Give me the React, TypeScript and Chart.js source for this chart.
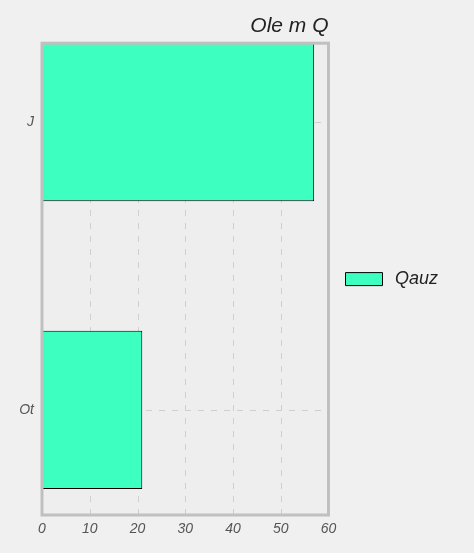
import React, { useEffect, useRef } from "react";
import { Chart, registerables } from "chart.js";

Chart.register(...registerables);

const categories: string[] = ["J", "Ot"];
const seriesName = "Qauz";
const values: number[] = [57, 21];
const xTicks: number[] = [0, 10, 20, 30, 40, 50, 60];
const titleText = "Ole m Q";

const FONT = "'Liberation Sans', Arial, Helvetica, sans-serif";

const framePlugin = {
  id: "frame",
  beforeDraw(chart: any) {
    const { ctx, chartArea, width, height } = chart;
    ctx.save();
    ctx.fillStyle = "#f0f0f0";
    ctx.fillRect(0, 0, width, height);
    ctx.fillStyle = "#eeeeee";
    ctx.fillRect(chartArea.left, chartArea.top, chartArea.right - chartArea.left, chartArea.bottom - chartArea.top);
    ctx.restore();
  },
  beforeDatasetsDraw(chart: any) {
    const { ctx, chartArea } = chart;
    const xs = chart.scales.x;
    const ys = chart.scales.y;
    ctx.save();
    ctx.strokeStyle = "#cfcfcf";
    ctx.lineWidth = 1;
    ctx.setLineDash([6, 7]);
    xs.ticks.forEach((t: any) => {
      const px = Math.round(xs.getPixelForValue(t.value)) + 0.5;
      ctx.beginPath();
      ctx.moveTo(px, chartArea.bottom);
      ctx.lineTo(px, chartArea.top);
      ctx.stroke();
    });
    ys.ticks.forEach((t: any) => {
      const py = Math.round(ys.getPixelForValue(t.value)) + 0.5;
      ctx.beginPath();
      ctx.moveTo(chartArea.left, py);
      ctx.lineTo(chartArea.right, py);
      ctx.stroke();
    });
    ctx.restore();
  },
  afterDatasetsDraw(chart: any) {
    const { ctx, chartArea } = chart;
    ctx.save();
    ctx.strokeStyle = "#c0c0c0";
    ctx.lineWidth = 3;
    ctx.strokeRect(chartArea.left, chartArea.top, chartArea.right - chartArea.left, chartArea.bottom - chartArea.top);
    ctx.restore();
  },
};

export default function App() {
  const ref = useRef<HTMLCanvasElement | null>(null);

  useEffect(() => {
    document.body.style.margin = "0";
    document.body.style.background = "#f0f0f0";
    const canvas = ref.current;
    if (!canvas) return;
    const chart = new Chart(canvas, {
      type: "bar",
      data: {
        datasets: [
          {
            label: seriesName,
            data: values.map((v, i) => ({ x: v, y: i })),
            backgroundColor: "#3cffc0",
            borderColor: "#000000",
            borderWidth: 1,
            barPercentage: 0.55,
            categoryPercentage: 1,
          } as any,
        ],
      },
      options: {
        indexAxis: "y",
        animation: false,
        responsive: false,
        maintainAspectRatio: false,
        layout: { padding: { top: 0, right: 36, bottom: 0, left: 0 } },
        scales: {
          x: {
            type: "linear",
            min: xTicks[0],
            max: xTicks[xTicks.length - 1],
            offset: false,
            afterBuildTicks: (scale: any) => {
              scale.ticks = xTicks.map((v) => ({ value: v }));
            },
            afterFit: (scale: any) => {
              scale.height = 38;
            },
            border: { display: false },
            grid: { display: true, drawOnChartArea: false, drawTicks: false, offset: false },
            ticks: {
              color: "#555555",
              padding: 6,
              font: { family: FONT, size: 14, style: "italic" },
            },
          } as any,
          y: {
            type: "linear",
            reverse: true,
            min: -0.274,
            max: 1.365,
            offset: false,
            afterBuildTicks: (scale: any) => {
              scale.ticks = categories.map((_, i) => ({ value: i }));
            },
            afterFit: (scale: any) => {
              scale.width = 42;
            },
            border: { display: false },
            grid: { display: true, drawOnChartArea: false, drawTicks: false, offset: false },
            ticks: {
              color: "#555555",
              padding: 8,
              font: { family: FONT, size: 14, style: "italic" },
              callback: (v: any) => categories[Math.round(Number(v))] ?? "",
            },
          } as any,
        },
        plugins: {
          title: {
            display: true,
            text: titleText,
            align: "end",
            fullSize: false,
            color: "#222222",
            padding: { top: 14, bottom: 4 },
            font: { family: FONT, size: 21, style: "italic", weight: "normal" },
          },
          legend: {
            display: true,
            position: "right",
            fullSize: false,
            labels: {
              boxWidth: 37,
              boxHeight: 13,
              padding: 17,
              textAlign: "right",
              color: "#222222",
              font: { family: FONT, size: 18, style: "italic" },
            },
          },
          tooltip: { enabled: false },
        },
      } as any,
      plugins: [framePlugin],
    });
    return () => chart.destroy();
  }, []);

  return (
    <div style={{ position: "fixed", left: 0, top: 0, width: 474, height: 553 }}>
      <canvas ref={ref} width={474} height={553} style={{ width: 474, height: 553, display: "block" }} />
    </div>
  );
}
